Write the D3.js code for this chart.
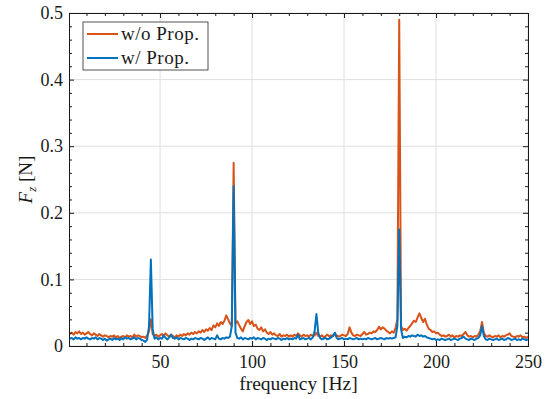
<!DOCTYPE html>
<html>
<head>
<meta charset="utf-8">
<script src="https://cdn.jsdelivr.net/npm/d3@7"></script>
<style>
  body { margin: 0; background: #fff; }
  text { font-family: "Liberation Serif", "Times New Roman", serif; fill: #1a1a1a; }
</style>
</head>
<body>
<div id="chart"></div>
<script>
// frequency axis: first bin and bin spacing [Hz]
var freqStart = 1, freqStep = 1;

// |F_z| without propeller [N], 1..250 Hz
var fzNoProp = [
  0.018, 0.020, 0.017, 0.021, 0.019, 0.022, 0.018, 0.020, 0.017, 0.019,
  0.021, 0.018, 0.016, 0.019, 0.017, 0.015, 0.018, 0.016, 0.014, 0.016,
  0.015, 0.013, 0.015, 0.014, 0.016, 0.013, 0.015, 0.012, 0.014, 0.015,
  0.013, 0.016, 0.014, 0.015, 0.013, 0.017, 0.014, 0.016, 0.015, 0.013,
  0.014, 0.012, 0.016, 0.022, 0.040, 0.018, 0.015, 0.017, 0.014, 0.016,
  0.018, 0.015, 0.019, 0.016, 0.014, 0.017, 0.015, 0.013, 0.016, 0.014,
  0.017, 0.015, 0.018, 0.016, 0.019, 0.017, 0.020, 0.018, 0.021, 0.019,
  0.022, 0.020, 0.024, 0.021, 0.025, 0.023, 0.027, 0.024, 0.031, 0.028,
  0.034, 0.030, 0.036, 0.033, 0.038, 0.046, 0.040, 0.034, 0.030, 0.275,
  0.034, 0.037, 0.031, 0.026, 0.022, 0.030, 0.036, 0.039, 0.033, 0.037,
  0.030, 0.032, 0.026, 0.024, 0.028, 0.022, 0.025, 0.020, 0.018, 0.021,
  0.017, 0.019, 0.016, 0.015, 0.018, 0.014, 0.016, 0.015, 0.017, 0.014,
  0.016, 0.014, 0.017, 0.015, 0.019, 0.016, 0.014, 0.017, 0.015, 0.016,
  0.014, 0.017, 0.015, 0.016, 0.020, 0.015, 0.014, 0.016, 0.013, 0.015,
  0.017, 0.014, 0.016, 0.015, 0.019, 0.016, 0.014, 0.015, 0.017, 0.016,
  0.015, 0.018, 0.028, 0.020, 0.016, 0.015, 0.017, 0.016, 0.015, 0.018,
  0.021, 0.017, 0.018, 0.020, 0.019, 0.022, 0.021, 0.024, 0.029, 0.025,
  0.028, 0.026, 0.023, 0.021, 0.019, 0.022, 0.020, 0.027, 0.040, 0.490,
  0.030, 0.024, 0.026, 0.023, 0.027, 0.030, 0.034, 0.038, 0.036, 0.043,
  0.049, 0.042, 0.036, 0.041, 0.032, 0.026, 0.024, 0.021, 0.022, 0.019,
  0.020, 0.017, 0.015, 0.016, 0.014, 0.015, 0.017, 0.014, 0.016, 0.013,
  0.015, 0.014, 0.016, 0.015, 0.018, 0.021, 0.016, 0.014, 0.015, 0.013,
  0.015, 0.014, 0.017, 0.022, 0.036, 0.020, 0.015, 0.014, 0.016, 0.014,
  0.013, 0.015, 0.014, 0.016, 0.013, 0.015, 0.014, 0.016, 0.017, 0.019,
  0.015, 0.014, 0.013, 0.015, 0.014, 0.016, 0.013, 0.014, 0.012, 0.014
];

// |F_z| with propeller [N], 1..250 Hz
var fzProp = [
  0.011, 0.012, 0.010, 0.013, 0.011, 0.012, 0.010, 0.012, 0.011, 0.013,
  0.011, 0.010, 0.012, 0.011, 0.013, 0.010, 0.012, 0.011, 0.009, 0.011,
  0.008, 0.010, 0.011, 0.009, 0.012, 0.010, 0.011, 0.009, 0.012, 0.010,
  0.013, 0.011, 0.012, 0.010, 0.011, 0.013, 0.010, 0.012, 0.011, 0.009,
  0.008, 0.006, 0.010, 0.030, 0.130, 0.025, 0.011, 0.013, 0.010, 0.012,
  0.011, 0.016, 0.012, 0.010, 0.013, 0.017, 0.012, 0.011, 0.013, 0.010,
  0.012, 0.011, 0.010, 0.012, 0.011, 0.009, 0.011, 0.010, 0.012, 0.011,
  0.010, 0.012, 0.011, 0.009, 0.011, 0.013, 0.010, 0.012, 0.011, 0.010,
  0.016, 0.011, 0.010, 0.012, 0.011, 0.013, 0.012, 0.014, 0.030, 0.240,
  0.020, 0.012, 0.011, 0.013, 0.010, 0.012, 0.011, 0.010, 0.012, 0.011,
  0.013, 0.010, 0.012, 0.011, 0.010, 0.012, 0.011, 0.009, 0.011, 0.010,
  0.012, 0.011, 0.010, 0.012, 0.011, 0.009, 0.011, 0.010, 0.012, 0.010,
  0.011, 0.010, 0.012, 0.011, 0.017, 0.010, 0.011, 0.012, 0.010, 0.011,
  0.012, 0.010, 0.013, 0.022, 0.048, 0.020, 0.012, 0.010, 0.011, 0.012,
  0.010, 0.011, 0.013, 0.015, 0.020, 0.012, 0.010, 0.011, 0.012, 0.010,
  0.011, 0.010, 0.012, 0.011, 0.010, 0.011, 0.012, 0.010, 0.011, 0.010,
  0.011, 0.010, 0.012, 0.011, 0.010, 0.011, 0.012, 0.010, 0.011, 0.012,
  0.011, 0.010, 0.012, 0.011, 0.012, 0.011, 0.012, 0.013, 0.030, 0.175,
  0.025, 0.012, 0.014, 0.013, 0.015, 0.014, 0.016, 0.015, 0.014, 0.017,
  0.015, 0.016, 0.014, 0.015, 0.013, 0.012, 0.011, 0.010, 0.011, 0.009,
  0.010, 0.009, 0.011, 0.010, 0.009, 0.010, 0.011, 0.009, 0.010, 0.011,
  0.010, 0.009, 0.011, 0.012, 0.014, 0.011, 0.010, 0.009, 0.011, 0.010,
  0.009, 0.011, 0.012, 0.016, 0.030, 0.015, 0.010, 0.009, 0.011, 0.010,
  0.009, 0.010, 0.011, 0.009, 0.010, 0.011, 0.009, 0.010, 0.012, 0.011,
  0.009, 0.010, 0.011, 0.009, 0.010, 0.009, 0.011, 0.010, 0.009, 0.010
];

var xTicks = [50, 100, 150, 200, 250];
var yTicks = [0, 0.1, 0.2, 0.3, 0.4, 0.5];
var seriesNames = ["w/o Prop.", "w/ Prop."];
var seriesColors = ["#D95319", "#0072BD"];

var margin = { top: 13, right: 18, bottom: 53, left: 69 },
    width = 546 - margin.left - margin.right,
    height = 399 - margin.top - margin.bottom;

var svg = d3.select("#chart").append("svg")
    .attr("width", 546)
    .attr("height", 399)
  .append("g")
    .attr("transform", "translate(" + margin.left + "," + margin.top + ")");

var x = d3.scaleLinear().domain([0.5, 250]).range([0, width]);
var y = d3.scaleLinear().domain([0, 0.5]).range([height, 0]);

// grid
svg.selectAll(".xgrid").data(xTicks).enter().append("line")
    .attr("x1", function(d) { return x(d); }).attr("x2", function(d) { return x(d); })
    .attr("y1", 0).attr("y2", height)
    .attr("stroke", "#dfdfdf").attr("stroke-width", 1);
svg.selectAll(".ygrid").data(yTicks).enter().append("line")
    .attr("x1", 0).attr("x2", width)
    .attr("y1", function(d) { return y(d); }).attr("y2", function(d) { return y(d); })
    .attr("stroke", "#dfdfdf").attr("stroke-width", 1);

// lines
var data = [fzNoProp, fzProp];
var line = d3.line()
    .x(function(d, i) { return x(freqStart + i * freqStep); })
    .y(function(d) { return y(d); });

svg.selectAll(".series").data(data).enter().append("path")
    .attr("d", line)
    .attr("fill", "none")
    .attr("stroke", function(d, i) { return seriesColors[i]; })
    .attr("stroke-width", 2)
    .attr("stroke-linejoin", "round");

// axes, ticks inward on all four sides (matlab box style)
var minorX = d3.range(10, 251, 10).filter(function(d) { return d % 50 != 0; });
var minorY = d3.range(0, 0.501, 0.02).filter(function(d) { return Math.abs(d * 10 - Math.round(d * 10)) > 1e-6; });

svg.append("g").attr("transform", "translate(0," + height + ")")
    .call(d3.axisBottom(x).tickValues(xTicks).tickSize(-5).tickPadding(9).tickFormat(d3.format("d")));
svg.append("g").attr("transform", "translate(0," + height + ")")
    .call(d3.axisBottom(x).tickValues(minorX).tickSize(-3).tickFormat(""));
svg.append("g")
    .call(d3.axisTop(x).tickValues(xTicks).tickSize(-5).tickFormat(""));
svg.append("g")
    .call(d3.axisTop(x).tickValues(minorX).tickSize(-3).tickFormat(""));

svg.append("g")
    .call(d3.axisLeft(y).tickValues(yTicks).tickSize(-5).tickPadding(6)
      .tickFormat(function(d) { return d === 0 ? "0" : d3.format(".1f")(d); }));
svg.append("g")
    .call(d3.axisLeft(y).tickValues(minorY).tickSize(-3).tickFormat(""));
svg.append("g").attr("transform", "translate(" + width + ",0)")
    .call(d3.axisRight(y).tickValues(yTicks).tickSize(-5).tickFormat(""));
svg.append("g").attr("transform", "translate(" + width + ",0)")
    .call(d3.axisRight(y).tickValues(minorY).tickSize(-3).tickFormat(""));

svg.selectAll(".domain").attr("stroke", "#1a1a1a");
svg.selectAll(".tick line").attr("stroke", "#1a1a1a");
svg.selectAll(".tick text")
    .style("font-family", "'Liberation Serif', serif")
    .style("font-size", "18px")
    .attr("fill", "#1a1a1a");

// axis labels
svg.append("text")
    .attr("x", width / 2).attr("y", height + 44)
    .attr("text-anchor", "middle")
    .style("font-size", "19.5px")
    .text("frequency [Hz]");

var ylab = svg.append("text")
    .attr("transform", "translate(-37," + (height / 2) + ") rotate(-90)")
    .attr("text-anchor", "middle")
    .style("font-size", "19px");
ylab.append("tspan").style("font-style", "italic").text("F");
ylab.append("tspan").style("font-style", "italic").style("font-size", "13px").attr("dy", 4).text("z");
ylab.append("tspan").attr("dy", -4).text(" [N]");

// legend
var legend = svg.append("g").attr("transform", "translate(14,9)");
legend.append("rect")
    .attr("width", 125).attr("height", 48)
    .attr("fill", "#fff").attr("stroke", "#262626").attr("stroke-width", 0.8);
var items = legend.selectAll(".item").data(seriesNames).enter().append("g")
    .attr("transform", function(d, i) { return "translate(0," + (12 + i * 24) + ")"; });
items.append("line")
    .attr("x1", 4).attr("x2", 35).attr("y1", 0).attr("y2", 0)
    .attr("stroke", function(d, i) { return seriesColors[i]; })
    .attr("stroke-width", 2);
items.append("text")
    .attr("x", 38).attr("y", 6)
    .style("font-size", "19px")
    .style("letter-spacing", "0.5px")
    .text(function(d) { return d; });
</script>
</body>
</html>
